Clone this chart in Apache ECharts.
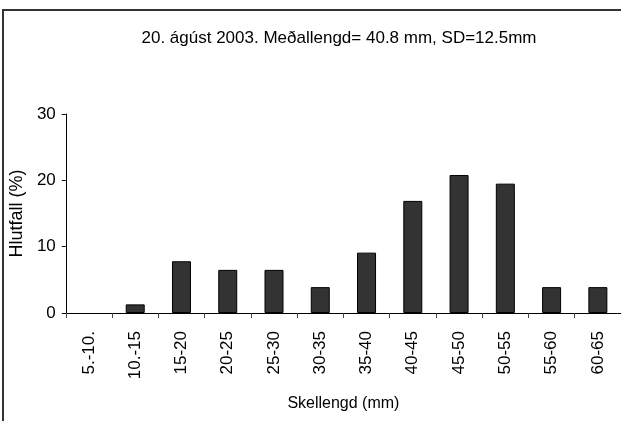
<!DOCTYPE html>
<html><head><meta charset="utf-8">
<script src="https://cdn.jsdelivr.net/npm/echarts@6/dist/echarts.min.js"></script>
<style>html,body{margin:0;padding:0;background:#fff}#c{width:621px;height:421px}</style>
</head><body><div id="c"></div>
<script>
const categories = ["5.-10.","10.-15","15-20","20-25","25-30","30-35","35-40","40-45","45-50","50-55","55-60","60-65"];
const values = [0, 1.3, 7.8, 6.5, 6.5, 3.9, 9.1, 16.9, 20.8, 19.5, 3.9, 3.9];
const yTicks = [0, 10, 20, 30];
const titleText = "20. ágúst 2003. Meðallengd= 40.8 mm, SD=12.5mm";
const font = "Liberation Sans, Arial, sans-serif";
const chart = echarts.init(document.getElementById('c'));
chart.setOption({
  animation: false,
  graphic: [{type:'rect', shape:{x:3,y:10,width:700,height:500}, style:{fill:'none', stroke:'#333', lineWidth:2}}],
  title: {text: titleText, left: 334, top: 25, textAlign:'center', textStyle:{fontFamily:font, fontSize:17, fontWeight:'normal', color:'#000'}},
  grid: {left: 64, top: 114, width: 558, height: 199},
  xAxis: {
    type:'category', data: categories,
    name:'Skellengd (mm)', nameLocation:'middle', nameGap: 83,
    nameTextStyle:{fontFamily:font, fontSize:16, color:'#000'},
    axisLine:{lineStyle:{color:'#000', width:1}},
    axisTick:{show:true, length:5, lineStyle:{color:'#444'}},
    axisLabel:{rotate:90, fontFamily:font, fontSize:17, color:'#000', margin:18}
  },
  yAxis: {
    type:'value', min: yTicks[0], max: yTicks[yTicks.length-1], interval: 10,
    name:'Hlutfall (%)', nameLocation:'middle', nameGap: 38,
    nameTextStyle:{fontFamily:font, fontSize:18, color:'#000'},
    axisLine:{show:true, lineStyle:{color:'#000', width:1}},
    axisTick:{show:true, length:4, lineStyle:{color:'#000'}},
    axisLabel:{fontFamily:font, fontSize:17, color:'#000', margin:10},
    splitLine:{show:false}
  },
  series: [{type:'bar', barWidth: 19,
    data: values.map(v => ({value: v, itemStyle: v === 0 ? {borderWidth: 0, opacity: 0} : undefined})),
    itemStyle:{color:'#333333', borderColor:'#000', borderWidth:1}}]
});
</script></body></html>
